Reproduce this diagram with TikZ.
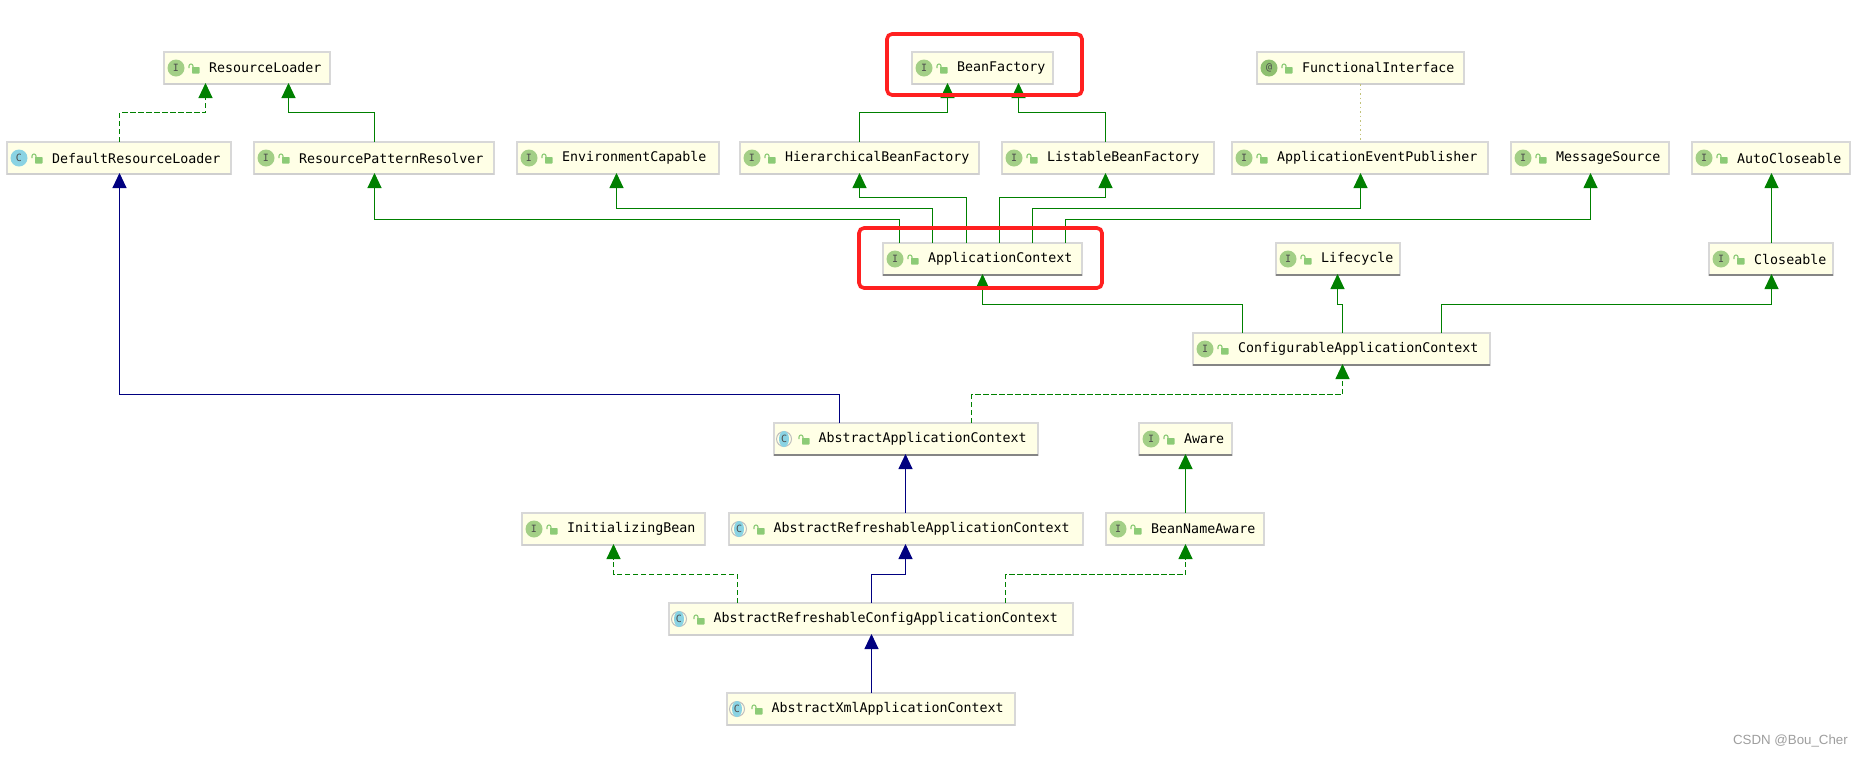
\documentclass[tikz,border=0pt]{standalone}
\usepackage{fontspec}
\usetikzlibrary{arrows.meta}
\newfontfamily\codefont{DejaVu Sans Mono}
\newfontfamily\markfont{Liberation Sans}
\definecolor{boxfill}{HTML}{FFFFE6}
\definecolor{boxedge}{HTML}{D8D8D8}
\definecolor{boxlow}{HTML}{CFCFCF}
\definecolor{boxdark}{HTML}{858585}
\definecolor{igreen}{HTML}{A3CF86}
\definecolor{agreen}{HTML}{8FC070}
\definecolor{cblue}{HTML}{8AD3E3}
\definecolor{lockgreen}{HTML}{8CCB76}
\definecolor{inhgreen}{HTML}{008000}
\definecolor{inhblue}{HTML}{000080}
\definecolor{dotcol}{HTML}{C2C27A}
\definecolor{framered}{HTML}{FF2020}
\tikzset{
  x=1pt,y=-1pt,
  umlbox/.style={draw=boxedge,line width=1.1pt,fill=boxfill,inner sep=0pt,outer sep=0pt,minimum height=32pt},
  umltext/.style={anchor=west,inner sep=0pt,font=\codefont\fontsize{13.3}{15}\selectfont,text=black},
  iconletter/.style={font=\codefont\fontsize{10}{10}\selectfont,text=black!70,inner sep=0pt},
  iconI/.style={circle,fill=igreen,minimum size=17pt,iconletter},
  iconC/.style={circle,fill=cblue,minimum size=17pt,iconletter},
  iconA/.style={circle,fill=agreen,minimum size=17pt,iconletter},
  iconB/.style={circle,draw=black!25,line width=1pt,minimum size=15pt,iconletter},
  solidgreen/.style={draw=inhgreen,line width=1pt,-{Triangle[length=15pt,width=14pt,sep=0pt]},shorten >=-1pt},
  dashgreen/.style={solidgreen,dash pattern=on 5.5pt off 2.5pt},
  solidblue/.style={draw=inhblue,line width=1pt,-{Triangle[length=15pt,width=14pt,sep=0pt]},shorten >=-1pt},
  dotlink/.style={draw=dotcol,line width=0.9pt,dash pattern=on 1.5pt off 3pt},
  redframe/.style={draw=framered,line width=3.6pt,rounded corners=5pt,inner sep=0pt},
}
% name, x0, x1, ytop, kind (I C B A), bottom edge colour, text
\newcommand\umlnode[7]{%
  \pgfmathsetmacro\ww{#3-#2}\pgfmathsetmacro\cxx{(#3+#2)/2}\pgfmathsetmacro\cyy{#4+16}%
  \node[umlbox,minimum width=\ww pt] (#1) at (\cxx,\cyy) {};
  \draw[#6,line width=1.5pt] (#1.south west) -- (#1.south east);
  \begin{scope}[shift={(#1.west)}]
    \umlicon{#5}{#1}
    \fill[lockgreen,rounded corners=0.6pt] (28,-1) rectangle (35.5,5.5);
    \draw[lockgreen,line width=1.1pt] (29,0) -- (29,-2) arc (0:-180:2) -- (25,0);
    \ifx#5B\node[umltext] (#1-text) at (44.3,0) {#7};\else\node[umltext] (#1-text) at (45,0) {#7};\fi
  \end{scope}
}
\newcommand\umlicon[2]{%
  \ifx#1I\node[iconI] (#2-icon) at (12,0) {I};\fi
  \ifx#1C\node[iconC] (#2-icon) at (12,0) {C};\fi
  \ifx#1A\node[iconA] (#2-icon) at (12,0) {@};\fi
  \ifx#1B%
    \node[iconB] (#2-ring) at (10,0) {};
    \fill[cblue] (10,0) ellipse (5 and 8);
    \node[iconletter] (#2-icon) at (10,0) {C};
  \fi
}
% style, source, x at source, y of run, target, x at target
\newcommand\bentlink[6]{\draw[#1] (#2.north -| #3,0) -- (#3,#4) -- (#6,#4) -- (#5.south -| #6,0);}
\newcommand\straightlink[4]{\draw[#1] (#2.north -| #4,0) -- (#3.south -| #4,0);}
\begin{document}
\begin{tikzpicture}
\useasboundingbox (0,0) rectangle (1860,756);
\fill[white] (0,0) rectangle (1860,756);
% row 1
\umlnode{rl}{164}{330}{52}{I}{boxlow}{ResourceLoader}
\umlnode{bf}{912}{1053}{52}{I}{boxlow}{BeanFactory}
\umlnode{fi}{1257}{1464}{52}{A}{boxlow}{FunctionalInterface}
% row 2
\umlnode{drl}{7}{231}{142}{C}{boxlow}{DefaultResourceLoader}
\umlnode{rpr}{254}{494}{142}{I}{boxlow}{ResourcePatternResolver}
\umlnode{ec}{517}{719}{142}{I}{boxlow}{EnvironmentCapable}
\umlnode{hbf}{740}{979}{142}{I}{boxlow}{HierarchicalBeanFactory}
\umlnode{lbf}{1002}{1214}{142}{I}{boxlow}{ListableBeanFactory}
\umlnode{aep}{1232}{1488}{142}{I}{boxlow}{ApplicationEventPublisher}
\umlnode{ms}{1511}{1669}{142}{I}{boxlow}{MessageSource}
\umlnode{acl}{1692}{1850}{142}{I}{boxlow}{AutoCloseable}
% row 3
\umlnode{ac}{883}{1082}{243}{I}{boxdark}{ApplicationContext}
\umlnode{lc}{1276}{1400}{243}{I}{boxdark}{Lifecycle}
\umlnode{cl}{1709}{1833}{243}{I}{boxdark}{Closeable}
% row 4
\umlnode{cac}{1193}{1490}{333}{I}{boxdark}{ConfigurableApplicationContext}
% row 5
\umlnode{aac}{774}{1038}{423}{B}{boxdark}{AbstractApplicationContext}
\umlnode{aw}{1139}{1232}{423}{I}{boxdark}{Aware}
% row 6
\umlnode{ib}{522}{705}{513}{I}{boxlow}{InitializingBean}
\umlnode{arac}{729}{1083}{513}{B}{boxlow}{AbstractRefreshableApplicationContext}
\umlnode{bna}{1106}{1264}{513}{I}{boxlow}{BeanNameAware}
% row 7
\umlnode{arcac}{669}{1073}{603}{B}{boxlow}{AbstractRefreshableConfigApplicationContext}
% row 8
\umlnode{axac}{727}{1015}{693}{B}{boxlow}{AbstractXmlApplicationContext}
% connectors
\bentlink{dashgreen}{drl}{119.5}{112.5}{rl}{205.5}
\bentlink{solidgreen}{rpr}{374.5}{112.5}{rl}{288.5}
\bentlink{solidgreen}{hbf}{859.5}{112.5}{bf}{947.5}
\bentlink{solidgreen}{lbf}{1105.5}{112.5}{bf}{1018.5}
\draw[dotlink] (fi.south -| 1360.5,0) -- (aep.north -| 1360.5,0);
\bentlink{solidgreen}{ac}{899.5}{219.5}{rpr}{374.5}
\bentlink{solidgreen}{ac}{932.5}{208.5}{ec}{616.5}
\bentlink{solidgreen}{ac}{966.5}{197.5}{hbf}{859.5}
\bentlink{solidgreen}{ac}{999.5}{197.5}{lbf}{1105.5}
\bentlink{solidgreen}{ac}{1032.5}{208.5}{aep}{1360.5}
\bentlink{solidgreen}{ac}{1065.5}{219.5}{ms}{1590.5}
\straightlink{solidgreen}{cl}{acl}{1771.5}
\bentlink{solidgreen}{cac}{1242.5}{304.5}{ac}{982.5}
\bentlink{solidgreen}{cac}{1342.5}{304.5}{lc}{1337.5}
\bentlink{solidgreen}{cac}{1441.5}{304.5}{cl}{1771.5}
\bentlink{solidblue}{aac}{839.5}{394.5}{drl}{119.5}
\bentlink{dashgreen}{aac}{971.5}{394.5}{cac}{1342.5}
\straightlink{solidblue}{arac}{aac}{905.5}
\straightlink{solidgreen}{bna}{aw}{1185.5}
\bentlink{solidblue}{arcac}{871.5}{574.5}{arac}{905.5}
\bentlink{dashgreen}{arcac}{737.5}{574.5}{ib}{613.5}
\bentlink{dashgreen}{arcac}{1005.5}{574.5}{bna}{1185.5}
\straightlink{solidblue}{axac}{arcac}{871.5}
% highlight frames
\node[redframe,minimum width=195pt,minimum height=61pt] (frame-bf) at (984.5,64.5) {};
\node[redframe,minimum width=243pt,minimum height=60pt] (frame-ac) at (980.5,258) {};
% watermark
\node[anchor=east,inner sep=0pt,text=black!38,font=\markfont\fontsize{13.3}{15}\selectfont] (mark) at (1848,740.5) {CSDN @Bou\_Cher};
\end{tikzpicture}
\end{document}
